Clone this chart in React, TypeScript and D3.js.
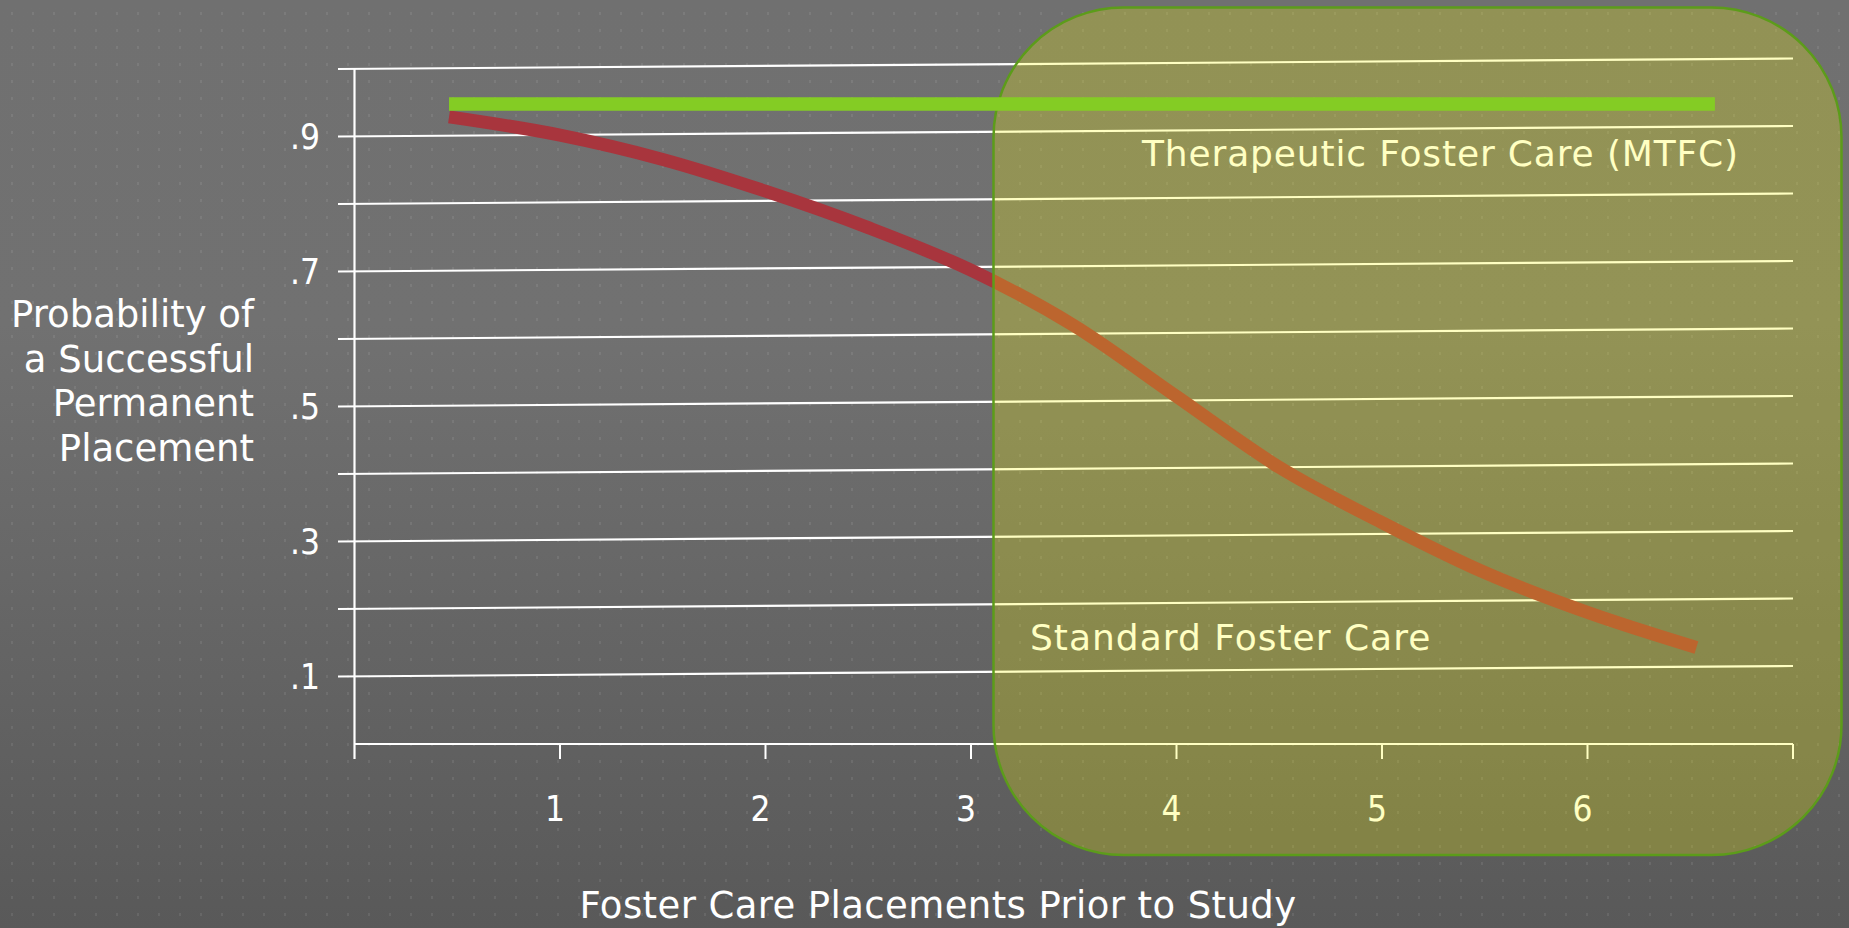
import React from "react";
import * as d3 from "d3";

// ---------- data ----------
const X_TICKS = [1, 2, 3, 4, 5, 6];
const X_TICK_MARKS = [1, 2, 3, 4, 5, 6, 7];
const Y_TICKS = [0.1, 0.3, 0.5, 0.7, 0.9];
const GRID_VALUES = [0.1, 0.2, 0.3, 0.4, 0.5, 0.6, 0.7, 0.8, 0.9, 1.0];

// Standard Foster Care (probability vs prior placements)
const SFC_X = [0.46, 1.0, 1.5, 2.0, 2.5, 3.0, 3.5, 4.0, 4.5, 5.0, 5.5, 6.0, 6.53];
const SFC_Y = [0.929, 0.902, 0.866, 0.819, 0.765, 0.702, 0.62, 0.515, 0.41, 0.328, 0.254, 0.195, 0.143];

// Therapeutic Foster Care (MTFC)
const MTFC_X = [0.46, 6.62];
const MTFC_Y = [0.948, 0.948];

const Y_TITLE = ["Probability of", "a Successful", "Permanent", "Placement"];
const X_TITLE = "Foster Care Placements Prior to Study";
const MTFC_LABEL = "Therapeutic Foster Care (MTFC)";
const SFC_LABEL = "Standard Foster Care";

// ---------- layout ----------
const W = 1849;
const H = 928;
const FONT = "'DejaVu Sans', sans-serif";
const FONT_NARROW = "'DejaVu Sans Condensed', 'DejaVu Sans', sans-serif";

export default function App() {
  const x = d3.scaleLinear().domain([0, 7]).range([354.5, 1793]);
  const y = d3.scaleLinear().domain([0, 1]).range([744, 69]);
  const tilt = 10.5; // gridlines rise slightly toward the right
  const gridLeft = 338;

  const line = d3
    .line<[number, number]>()
    .x((d) => x(d[0]))
    .y((d) => y(d[1]))
    .curve(d3.curveMonotoneX);

  const sfc: [number, number][] = SFC_X.map((v, i) => [v, SFC_Y[i]]);
  const mtfc: [number, number][] = MTFC_X.map((v, i) => [v, MTFC_Y[i]]);

  const fmt = (v: number) => d3.format(".1f")(v).replace(/^0/, "");

  const axisY = y(0);
  const box = { x: 993.5, y: 7.5, w: 848, h: 847.5, r: 130 };

  return (
    <svg
      width={W}
      height={H}
      style={{ position: "absolute", left: 0, top: 0, fontFamily: FONT }}
    >
      <defs>
        <linearGradient id="bg" x1="0" y1="0" x2="0" y2="1">
          <stop offset="0" stopColor="#707070" />
          <stop offset="0.35" stopColor="#717171" />
          <stop offset="1" stopColor="#595959" />
        </linearGradient>
        <pattern id="dots" patternUnits="userSpaceOnUse" width={21} height={17}>
          <rect x={11} y={12} width={2} height={3} fill="#ffffff" fillOpacity={0.08} />
        </pattern>
      </defs>
      <rect width={W} height={H} fill="url(#bg)" />
      <rect width={W} height={H} fill="url(#dots)" />

      {/* gridlines */}
      {GRID_VALUES.map((v) => (
        <line
          key={v}
          x1={gridLeft}
          x2={x(7)}
          y1={y(v)}
          y2={y(v) - tilt}
          stroke="#ffffff"
          strokeWidth={2.2}
        />
      ))}

      {/* axes */}
      <line x1={x(0)} x2={x(0)} y1={y(1)} y2={axisY + 15} stroke="#ffffff" strokeWidth={2.2} />
      <line x1={x(0)} x2={x(7)} y1={axisY} y2={axisY} stroke="#ffffff" strokeWidth={2.2} />
      {X_TICK_MARKS.map((v) => (
        <line key={v} x1={x(v)} x2={x(v)} y1={axisY} y2={axisY + 15} stroke="#ffffff" strokeWidth={2} />
      ))}

      {/* tick labels */}
      {Y_TICKS.map((v) => (
        <text
          key={v}
          x={320}
          y={y(v)}
          dy="0.36em"
          textAnchor="end"
          fontSize={35}
          fill="#ffffff"
          style={{ fontFamily: FONT_NARROW, fontStretch: "condensed" }}
        >
          {fmt(v)}
        </text>
      ))}
      {X_TICKS.map((v) => (
        <text
          key={v}
          x={x(v) - 5}
          y={axisY + 77}
          textAnchor="middle"
          fontSize={35}
          fill="#ffffff"
          style={{ fontFamily: FONT_NARROW, fontStretch: "condensed" }}
        >
          {v}
        </text>
      ))}

      {/* axis titles */}
      {Y_TITLE.map((t, i) => (
        <text key={t} x={254} y={327 + i * 44.5} textAnchor="end" fontSize={37} fill="#ffffff">
          {t}
        </text>
      ))}
      <text x={938} y={918} textAnchor="middle" fontSize={37} letterSpacing={0.4} fill="#ffffff">
        {X_TITLE}
      </text>

      {/* series labels */}
      <text x={1142} y={166} fontSize={36} letterSpacing={0.85} fill="#ffffff">
        {MTFC_LABEL}
      </text>
      <text x={1030} y={650} fontSize={36} letterSpacing={1} fill="#ffffff">
        {SFC_LABEL}
      </text>

      {/* standard foster care curve */}
      <path d={line(sfc) ?? ""} fill="none" stroke="#a8353d" strokeWidth={13} strokeLinecap="butt" />

      {/* highlight box */}
      <rect
        x={box.x}
        y={box.y}
        width={box.w}
        height={box.h}
        rx={box.r}
        ry={box.r}
        fill="#ffff00"
        fillOpacity={0.24}
        stroke="#5c9c1a"
        strokeWidth={2.5}
      />

      {/* MTFC line */}
      <path d={line(mtfc) ?? ""} fill="none" stroke="#84cc24" strokeWidth={13.5} strokeLinecap="butt" />
    </svg>
  );
}
